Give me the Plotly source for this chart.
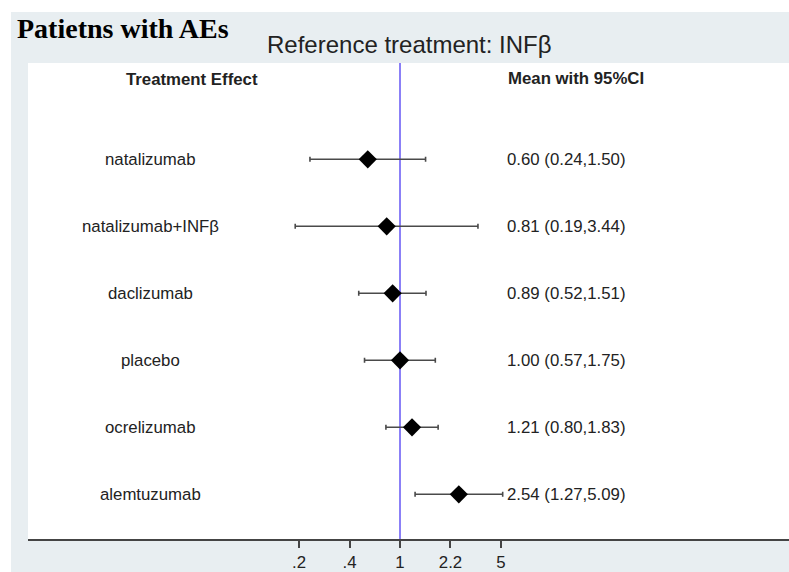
import math
import plotly.graph_objects as go

# ---- data ----
treatments = ["natalizumab", "natalizumab+INFβ", "daclizumab", "placebo", "ocrelizumab", "alemtuzumab"]
means = [0.60, 0.81, 0.89, 1.00, 1.21, 2.54]
lower = [0.24, 0.19, 0.52, 0.57, 0.80, 1.27]
upper = [1.50, 3.44, 1.51, 1.75, 1.83, 5.09]
tick_ln_positions = [-1.6, -0.8, 0.0, 0.8, 1.6]
tick_labels = [".2", ".4", "1", "2.2", "5"]
reference_value = 1.0

title_text = "Patietns with AEs"
subtitle_text = "Reference treatment: INFβ"
left_header = "Treatment Effect"
right_header = "Mean with 95%CI"

# ---- style ----
W, H = 810, 572          # slightly wider than the window: the plot area runs off the right edge
ML, MR, MT, MB = 28, 0, 63, 33
PW = W - ML - MR
PH = H - MT - MB
BG = "#e8eef1"
SANS = "Liberation Sans, Arial, Helvetica, sans-serif"
SERIF = "Liberation Serif, Times New Roman, serif"
TXT = "#222222"
FS = 16.8

def px_x(p):
    return (p - ML) / PW

def px_y(p):
    return (H - MB - p) / PH

rows = list(range(len(treatments)))

fig = go.Figure()

# reference line
fig.add_shape(type="line", xref="x", yref="paper",
              x0=reference_value, x1=reference_value, y0=0, y1=1,
              line=dict(color="#8b80f7", width=2), layer="below")

fig.add_trace(go.Scatter(
    x=means, y=rows, mode="markers",
    marker=dict(symbol="diamond", size=14, color="black"),
    error_x=dict(type="data", symmetric=False,
                 array=[h - m for h, m in zip(upper, means)],
                 arrayminus=[m - l for m, l in zip(means, lower)],
                 color="#4a4a4a", thickness=1.6, width=2.5),
    showlegend=False, hoverinfo="skip", cliponaxis=False,
))

annotations = []
for i, (t, m, l, h) in enumerate(zip(treatments, means, lower, upper)):
    annotations.append(dict(text=t, xref="paper", yref="y", x=px_x(150), y=i,
                            xanchor="center", yanchor="middle", showarrow=False,
                            font=dict(family=SANS, size=FS, color=TXT)))
    annotations.append(dict(text=f"{m:.2f} ({l:.2f},{h:.2f})", xref="paper", yref="y",
                            x=px_x(505), y=i, xanchor="left", yanchor="middle",
                            showarrow=False, font=dict(family=SANS, size=FS, color=TXT)))

annotations.append(dict(text=f"<b>{left_header}</b>", xref="paper", yref="paper",
                        x=px_x(192), y=px_y(79), xanchor="center", yanchor="middle",
                        showarrow=False, font=dict(family=SANS, size=FS, color=TXT)))
annotations.append(dict(text=f"<b>{right_header}</b>", xref="paper", yref="paper",
                        x=px_x(506), y=px_y(78), xanchor="left", yanchor="middle",
                        showarrow=False, font=dict(family=SANS, size=FS, color=TXT)))
annotations.append(dict(text=f"<b>{title_text}</b>", xref="paper", yref="paper",
                        x=px_x(15), y=px_y(28), xanchor="left", yanchor="middle",
                        showarrow=False, font=dict(family=SERIF, size=28, color="black")))
annotations.append(dict(text=subtitle_text, xref="paper", yref="paper",
                        x=px_x(409), y=px_y(45), xanchor="center", yanchor="middle",
                        showarrow=False, font=dict(family=SANS, size=24, color=TXT)))

# white image border strips (top and left)
shapes_extra = [
    dict(type="rect", xref="paper", yref="paper", x0=px_x(-5), x1=px_x(11),
         y0=px_y(H + 5), y1=px_y(-5), fillcolor="white", line=dict(width=0), layer="below"),
    dict(type="rect", xref="paper", yref="paper", x0=px_x(-5), x1=px_x(W + 5),
         y0=px_y(12), y1=px_y(-5), fillcolor="white", line=dict(width=0), layer="below"),
]
for s in shapes_extra:
    fig.add_shape(**s)

ln_left = (ML - 400) / 63.1
ln_right = (W - MR - 400) / 63.1
y_top = (MT - 159.3) / 67.0
y_bot = (H - MB - 159.3) / 67.0

fig.update_layout(
    width=W, height=H,
    margin=dict(l=ML, r=MR, t=MT, b=MB, autoexpand=False),
    paper_bgcolor=BG, plot_bgcolor="white",
    annotations=annotations,
    xaxis=dict(type="log",
               range=[ln_left / math.log(10), ln_right / math.log(10)],
               tickvals=[math.exp(v) for v in tick_ln_positions],
               ticktext=tick_labels,
               ticks="outside", ticklen=7, tickwidth=1.5, tickcolor="#444",
               showline=True, linecolor="#444", linewidth=2,
               showgrid=False, zeroline=False,
               tickfont=dict(family=SANS, size=FS, color=TXT),
               fixedrange=True),
    yaxis=dict(range=[y_bot, y_top], showgrid=False, zeroline=False,
               showticklabels=False, showline=False, fixedrange=True),
)

fig.write_html("out.html",
               config={"displayModeBar": False},
               post_script=("document.documentElement.style.margin='0';"
                            "document.documentElement.style.overflow='hidden';"
                            "document.body.style.margin='0';"
                            "document.body.style.overflow='hidden';"))
